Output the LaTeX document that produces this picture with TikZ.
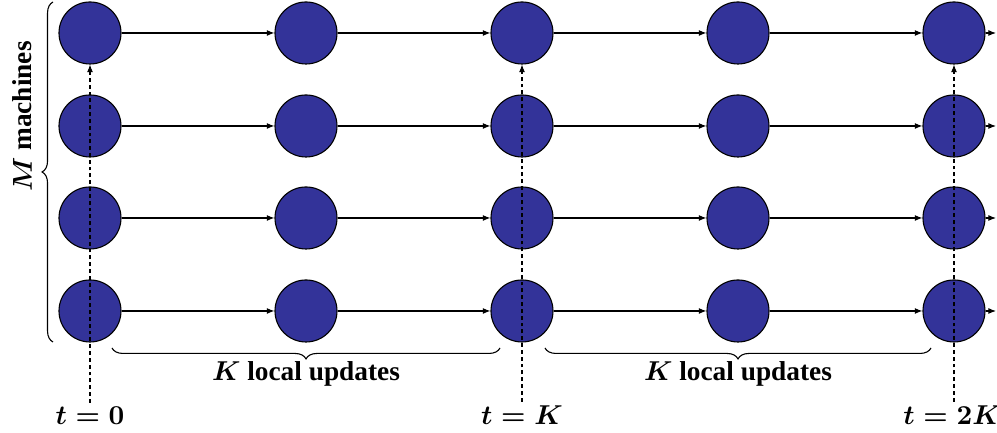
\documentclass[tikz,border=0pt]{standalone}
\usepackage[no-math]{fontspec}
\setmainfont{Liberation Serif}
\usetikzlibrary{decorations.pathreplacing,arrows.meta}
\definecolor{nodeblue}{RGB}{51,51,153}
\begin{document}
\begin{tikzpicture}[x=0.366pt,y=-0.366pt,
  machine/.style={circle,draw=black,thin,fill=nodeblue,minimum size=22.7pt,inner sep=0pt},
  flow/.style={thin,-{Latex[length=2.8pt,width=2.2pt]}},
  sync/.style={thin,dash pattern=on 1.4pt off 1.1pt,-{Latex[length=2.8pt,width=2.2pt]}},
  bracestyle/.style={thin,decorate,decoration={brace,amplitude=4pt}},
  lbl/.style={font=\bfseries\boldmath,anchor=base,inner sep=1.5pt}]
\useasboundingbox (0,0) rectangle (997,433);
% machines
\foreach \r/\y in {1/33,2/126,3/218,4/311}{
  \foreach \c/\x in {1/90,2/306,3/522,4/738,5/954}{
    \node[machine] (n\r\c) at (\x,\y) {};
  }
}
% local update arrows
\foreach \r in {1,2,3,4}{
  \foreach \c/\d in {1/2,2/3,3/4,4/5}{
    \draw[flow] (n\r\c) -- (n\r\d);
  }
}
% continuation arrows
\foreach \r/\y in {1/33,2/126,3/218,4/311}{
  \coordinate (e\r) at (996,\y);
  \draw[sync] (n\r5.east) -- (e\r);
}
% time labels
\node[lbl] (t0) at (90,425) {$t=0$};
\node[lbl] (tK) at (522,425) {$t=K$};
\node[lbl] (t2K) at (952,425) {$t=2K$};
\draw[sync] (n11 |- t0.north) -- (n11.south);
\draw[sync] (n13 |- tK.north) -- (n13.south);
\draw[sync] (n15 |- t2K.north) -- (n15.south);
% braces
\coordinate (bl1) at (53,342);
\coordinate (bl2) at (53,2);
\draw[bracestyle] (bl1) -- (bl2);
\node[lbl,rotate=90] (mlab) at (32,116.5) {$M$ machines};
\coordinate (ba1) at (500,348);
\coordinate (ba2) at (112,348);
\draw[bracestyle] (ba1) -- (ba2);
\node[lbl] (k1) at (306,381) {$K$ local updates};
\coordinate (bb1) at (931,348);
\coordinate (bb2) at (545,348);
\draw[bracestyle] (bb1) -- (bb2);
\node[lbl] (k2) at (738,381) {$K$ local updates};
\end{tikzpicture}
\end{document}
